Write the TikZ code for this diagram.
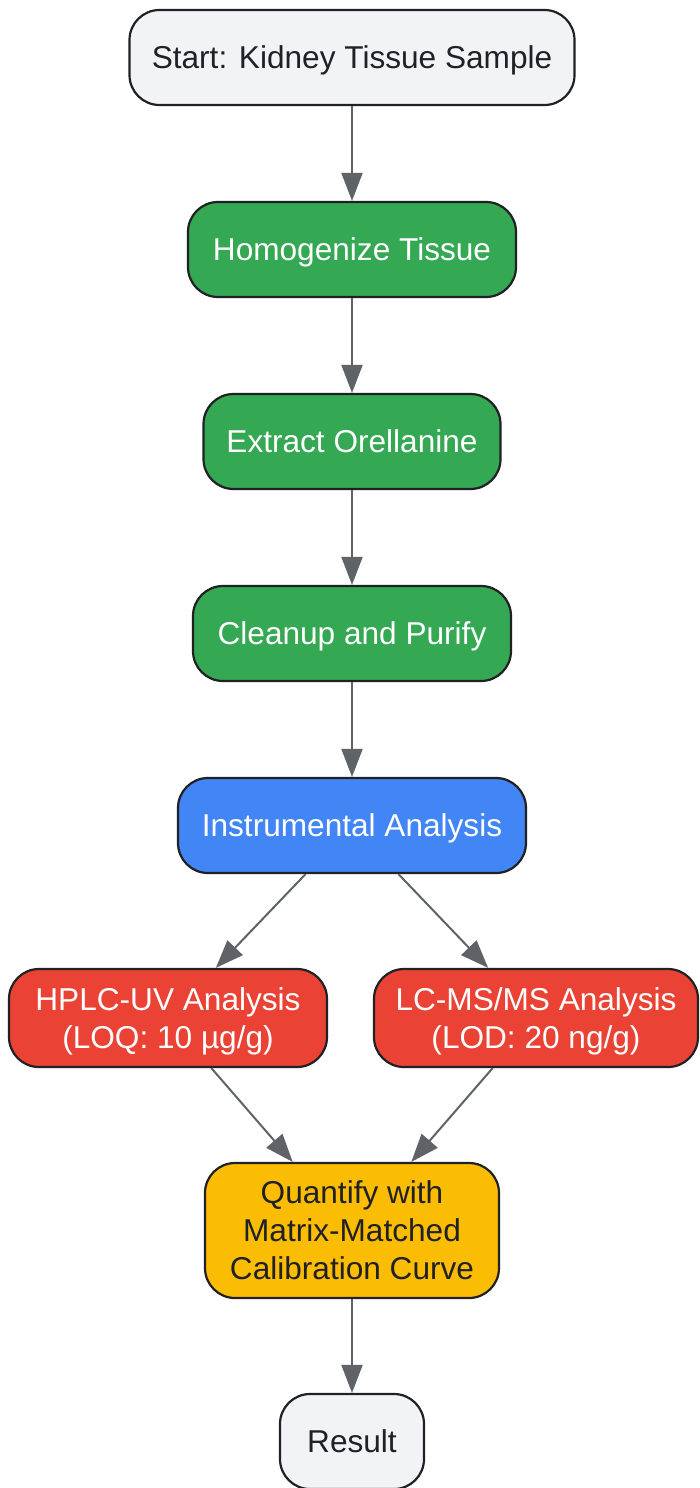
\documentclass[tikz,border=0pt]{standalone}
\usepackage{fontspec}
\setmainfont{Liberation Sans}
\usetikzlibrary{arrows.meta}
\definecolor{boxline}{HTML}{202124}
\definecolor{darktext}{HTML}{202124}
\definecolor{startfill}{HTML}{F1F3F4}
\definecolor{greenfill}{HTML}{34A853}
\definecolor{bluefill}{HTML}{4285F4}
\definecolor{redfill}{HTML}{EA4335}
\definecolor{yellowfill}{HTML}{FBBC04}
\definecolor{arrowgray}{HTML}{5F6368}
\newcommand{\linestrut}{\rule[-7.7pt]{0pt}{38pt}}
\newcommand{\nextline}{\\\linestrut}
\begin{document}
\begin{tikzpicture}[x=1pt,y=-1pt,
  box/.style={draw=boxline, line width=2.2pt, rounded corners=30pt, inner sep=0pt,
    align=center, font=\fontsize{31.6}{38}\selectfont, minimum height=95pt,
    execute at begin node=\linestrut},
  greybox/.style={box, fill=startfill, text=darktext},
  greenbox/.style={box, fill=greenfill, text=white},
  bluebox/.style={box, fill=bluefill, text=white},
  redbox/.style={box, fill=redfill, text=white, minimum height=98pt},
  yellowbox/.style={box, fill=yellowfill, text=darktext, minimum height=135pt},
  flow/.style={draw=arrowgray, line width=2pt, -{Triangle[length=28pt,width=21pt]}}
]
\useasboundingbox (0,0) rectangle (699,1488);
\fill[white] (0,0) rectangle (699,1488);

\node[greybox, minimum width=445pt] (start) at (352,57.5) {Start: Kidney Tissue Sample};
\node[greenbox, minimum width=328pt] (homog) at (352,249.5) {Homogenize Tissue};
\node[greenbox, minimum width=297pt] (extract) at (352,441.5) {Extract Orellanine};
\node[greenbox, minimum width=318pt] (clean) at (352,633.5) {Cleanup and Purify};
\node[bluebox, minimum width=348pt] (instr) at (352,825.5) {Instrumental Analysis};
\node[redbox, minimum width=318pt] (hplc) at (168,1018) {\linestrut HPLC-UV Analysis\nextline(LOQ: 10 µg/g)};
\node[redbox, minimum width=324pt] (lcms) at (536,1018) {\linestrut LC-MS/MS Analysis\nextline(LOD: 20 ng/g)};
\node[yellowbox, minimum width=294pt] (quant) at (352,1230.5) {\linestrut Quantify with\nextline Matrix-Matched\nextline Calibration Curve};
\node[greybox, minimum width=144pt] (result) at (352,1441.5) {Result};

\draw[flow] (start) -- (homog);
\draw[flow] (homog) -- (extract);
\draw[flow] (extract) -- (clean);
\draw[flow] (clean) -- (instr);
\draw[flow] (instr) -- (hplc);
\draw[flow] (instr) -- (lcms);
\draw[flow] (hplc) -- (quant);
\draw[flow] (lcms) -- (quant);
\draw[flow] (quant) -- (result);
\end{tikzpicture}
\end{document}
